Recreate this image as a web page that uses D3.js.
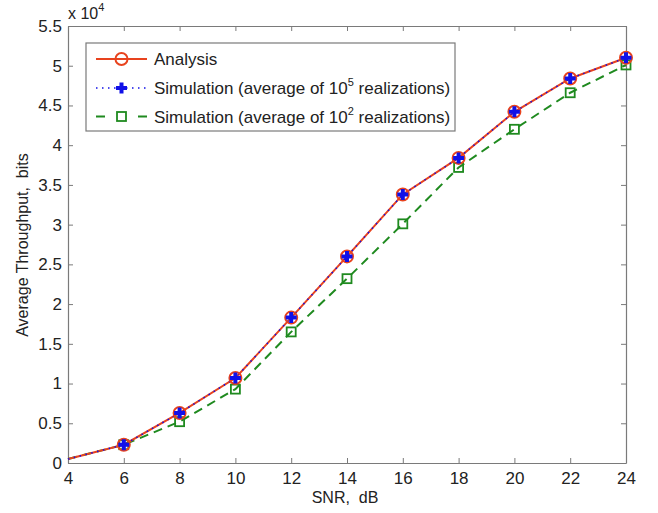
<!DOCTYPE html>
<html>
<head>
<meta charset="utf-8">
<script src="https://cdn.jsdelivr.net/npm/d3@7"></script>
<style>
  body { margin: 0; background: #fff; }
  text { font-family: "Liberation Sans", Arial, sans-serif; fill: #222; white-space: pre; }
</style>
</head>
<body>
<div class="chart"></div>
<script>
var W = 658, H = 513;
var margin = {left: 68, right: 32, top: 26, bottom: 50};
var w = W - margin.left - margin.right; // 558
var h = H - margin.top - margin.bottom; // 437

// data (throughput in units of 10^4 bits)
var snr = [4, 6, 8, 10, 12, 14, 16, 18, 20, 22, 24];
var analysis = [0.05, 0.23, 0.63, 1.07, 1.83, 2.60, 3.38, 3.84, 4.42, 4.84, 5.10];
var sim1e5 = [0.05, 0.23, 0.63, 1.07, 1.83, 2.60, 3.38, 3.84, 4.42, 4.84, 5.10];
var sim1e2 = [0.05, 0.23, 0.52, 0.93, 1.65, 2.32, 3.01, 3.72, 4.20, 4.66, 5.01];
var xTicks = [4, 6, 8, 10, 12, 14, 16, 18, 20, 22, 24];
var yTicks = [0, 0.5, 1, 1.5, 2, 2.5, 3, 3.5, 4, 4.5, 5, 5.5];

var red = "#e8431e", blue = "#1010e8", green = "#1f8a1f", axisCol = "#7a7a7a";

var svg = d3.select(".chart").append("svg")
  .attr("width", W).attr("height", H);
var g = svg.append("g").attr("transform", `translate(${margin.left},${margin.top})`);

var xScale = d3.scaleLinear().domain([4, 24]).range([0, w]);
var yScale = d3.scaleLinear().domain([0, 5.5]).range([h, 0]);

// axes (ticks pointing inward, box like matlab)
function styleAxis(a) {
  a.selectAll("line").attr("stroke", axisCol);
  a.select(".domain").attr("stroke", axisCol).attr("stroke-width", 1.2);
  a.selectAll("text").style("font-size", "17px").style("font-family", "Liberation Sans, Arial, sans-serif").attr("fill", "#222");
}
g.append("g").attr("transform", `translate(0,${h})`)
  .call(d3.axisBottom(xScale).tickValues(xTicks).tickSizeInner(-5).tickSizeOuter(0).tickPadding(9))
  .call(styleAxis);
g.append("g")
  .call(d3.axisLeft(yScale).tickValues(yTicks).tickFormat(d3.format("")).tickSizeInner(-5).tickSizeOuter(0).tickPadding(6))
  .call(styleAxis);
g.append("g")
  .call(d3.axisTop(xScale).tickValues(xTicks).tickFormat("").tickSizeInner(-5).tickSizeOuter(0))
  .call(styleAxis);
g.append("g").attr("transform", `translate(${w},0)`)
  .call(d3.axisRight(yScale).tickValues(yTicks).tickFormat("").tickSizeInner(-5).tickSizeOuter(0))
  .call(styleAxis);

// axis labels
svg.append("text").attr("x", margin.left + w / 2 - 2).attr("y", 503)
  .attr("text-anchor", "middle").style("font-size", "16px").text("SNR,  dB");
svg.append("text").attr("transform", "translate(28,245) rotate(-90)")
  .attr("text-anchor", "middle").style("font-size", "16px").text("Average Throughput,  bits");
var exp = svg.append("text").attr("x", 68).attr("y", 19).style("font-size", "16px");
exp.append("tspan").text("x 10");
exp.append("tspan").attr("dy", -8).style("font-size", "11px").text("4");

function pts(ys) { return snr.map((x, i) => ({x: x, y: ys[i]})); }
var line = d3.line().x(d => xScale(d.x)).y(d => yScale(d.y));

// lines
g.append("path").datum(pts(sim1e2)).attr("d", line)
  .attr("fill", "none").attr("stroke", green).attr("stroke-width", 2).attr("stroke-dasharray", "9,6");
g.append("path").datum(pts(analysis)).attr("d", line)
  .attr("fill", "none").attr("stroke", red).attr("stroke-width", 2);
g.append("path").datum(pts(sim1e5)).attr("d", line)
  .attr("fill", "none").attr("stroke", blue).attr("stroke-width", 1.5).attr("stroke-dasharray", "1.5,4.5");

// markers (no marker at the first point, 4 dB)
var mk = d => d.x >= 6;
g.selectAll(".m-green").data(pts(sim1e2).filter(mk)).enter().append("rect")
  .attr("x", d => xScale(d.x) - 4.5).attr("y", d => yScale(d.y) - 4.5)
  .attr("width", 9).attr("height", 9)
  .attr("fill", "none").attr("stroke", green).attr("stroke-width", 1.8);
g.selectAll(".m-red").data(pts(analysis).filter(mk)).enter().append("circle")
  .attr("cx", d => xScale(d.x)).attr("cy", d => yScale(d.y)).attr("r", 6)
  .attr("fill", "none").attr("stroke", red).attr("stroke-width", 2);
function plus(sel) {
  sel.append("path")
    .attr("d", "M-5.5,0H5.5M0,-5.5V5.5")
    .attr("stroke", blue).attr("stroke-width", 4).attr("fill", "none");
}
g.selectAll(".m-blue").data(pts(sim1e5).filter(mk)).enter().append("g")
  .attr("transform", d => `translate(${xScale(d.x)},${yScale(d.y)})`)
  .call(plus);

// legend
var legend = svg.append("g").attr("transform", "translate(86,43)");
legend.append("rect").attr("width", 369).attr("height", 88)
  .attr("fill", "#fff").attr("stroke", axisCol).attr("stroke-width", 1.2);
// row 1
legend.append("line").attr("x1", 10).attr("x2", 61).attr("y1", 16).attr("y2", 16)
  .attr("stroke", red).attr("stroke-width", 2);
legend.append("circle").attr("cx", 35.5).attr("cy", 16).attr("r", 6)
  .attr("fill", "none").attr("stroke", red).attr("stroke-width", 2);
// row 2
legend.append("line").attr("x1", 10).attr("x2", 61).attr("y1", 45).attr("y2", 45)
  .attr("stroke", blue).attr("stroke-width", 1.5).attr("stroke-dasharray", "1.5,4.5");
legend.append("g").attr("transform", "translate(35.5,45)").call(plus);
// row 3
legend.append("line").attr("x1", 10).attr("x2", 61).attr("y1", 73.5).attr("y2", 73.5)
  .attr("stroke", green).attr("stroke-width", 2).attr("stroke-dasharray", "9,12");
legend.append("rect").attr("x", 31).attr("y", 69).attr("width", 9).attr("height", 9)
  .attr("fill", "#fff").attr("stroke", green).attr("stroke-width", 1.8);

var labels = [
  {y: 16, txt: "Analysis", sup: null, rest: null},
  {y: 45, txt: "Simulation (average of 10", sup: "5", rest: " realizations)"},
  {y: 73.5, txt: "Simulation (average of 10", sup: "2", rest: " realizations)"}
];
labels.forEach(function(l) {
  var t = legend.append("text").attr("x", 68).attr("y", l.y + 6).style("font-size", "17px");
  t.append("tspan").text(l.txt);
  if (l.sup) {
    t.append("tspan").attr("dy", -8).style("font-size", "11px").text(l.sup);
    t.append("tspan").attr("dy", 8).text(l.rest);
  }
});
</script>
</body>
</html>
